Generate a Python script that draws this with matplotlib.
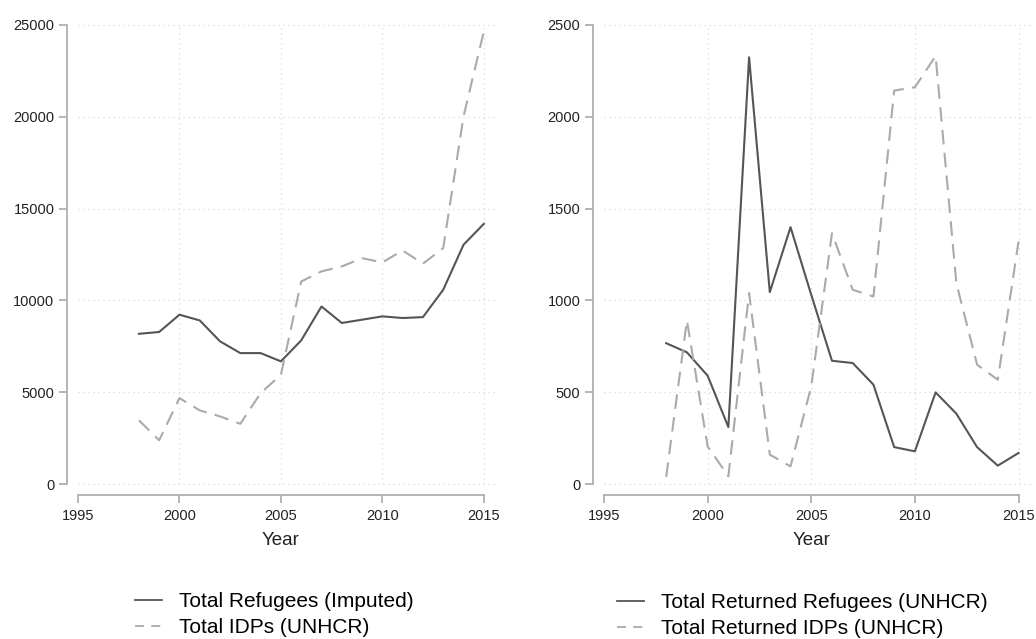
import matplotlib.pyplot as plt
from matplotlib.lines import Line2D

plt.rcParams["font.family"] = ["Liberation Sans", "DejaVu Sans"]

YEARS = list(range(1998, 2016))

# Stock series (left panel)
TOTAL_REFUGEES_IMPUTED = [8180, 8280, 9220, 8910, 7770, 7130, 7130, 6680, 7820,
                          9670, 8770, 8950, 9130, 9040, 9090, 10580, 13030, 14170]
TOTAL_IDPS = [3470, 2380, 4680, 4010, 3680, 3280, 4950, 5950, 11030,
              11580, 11850, 12300, 12070, 12720, 12000, 12850, 20020, 24650]

# Return flows (right panel)
RETURNED_REFUGEES = [767, 717, 590, 310, 2324, 1045, 1399, 1030, 671,
                     659, 541, 201, 178, 499, 383, 201, 100, 169]
RETURNED_IDPS = [38, 891, 205, 42, 1040, 160, 96, 532, 1366,
                 1058, 1021, 2143, 2161, 2331, 1094, 650, 568, 1321]

LEFT_YTICKS = [0, 5000, 10000, 15000, 20000, 25000]
RIGHT_YTICKS = [0, 500, 1000, 1500, 2000, 2500]
XTICKS = [1995, 2000, 2005, 2010, 2015]

SOLID_COLOR = "#555555"
DASH_COLOR = "#aaaaaa"
AXIS_COLOR = "#b0b0b0"
GRID_COLOR = "#d8d8d8"
DASHES = (7, 4)

W, H = 1036, 639


def fig_box(left_px, right_px, top_px, bottom_px):
    return [left_px / W, 1 - bottom_px / H, (right_px - left_px) / W, (bottom_px - top_px) / H]


def style_panel(ax, yticks):
    ax.set_xlim(1995, 2015.65)
    ax.set_ylim(yticks[0], yticks[-1])
    ax.set_xticks(XTICKS)
    ax.set_yticks(yticks)
    for side in ("top", "right"):
        ax.spines[side].set_visible(False)
    for side in ("left", "bottom"):
        ax.spines[side].set_color(AXIS_COLOR)
        ax.spines[side].set_linewidth(1.3)
        ax.spines[side].set_position(("outward", 8))
    ax.spines["bottom"].set_bounds(1995, 2015)
    ax.spines["left"].set_bounds(yticks[0], yticks[-1])
    ax.tick_params(axis="both", length=6, width=1.3, color=AXIS_COLOR,
                   labelsize=10.5, labelcolor="#222222")
    ax.tick_params(axis="y", pad=3)
    ax.tick_params(axis="x", pad=4)
    for y in yticks:
        ax.axhline(y, color=GRID_COLOR, lw=0.9, ls=(0, (1, 3)), zorder=0, clip_on=False)
    for x in XTICKS[1:]:
        ax.axvline(x, color=GRID_COLOR, lw=0.9, ls=(0, (1, 3)), zorder=0)
    ax.set_xlabel("Year", fontsize=13.5, color="#222222")
    ax.xaxis.set_label_coords(10 / 20.65, -0.104)


def add_legend(ax, labels, x_px, y_px):
    handles = [
        Line2D([], [], color=SOLID_COLOR, lw=1.3),
        Line2D([], [], color=DASH_COLOR, lw=1.3, dashes=(5, 4)),
    ]
    ax.legend(handles, labels, loc="upper left", bbox_to_anchor=(x_px / W, 1 - y_px / H),
              bbox_transform=ax.figure.transFigure, frameon=False, fontsize=15,
              handlelength=1.3, handletextpad=0.8, borderpad=0, borderaxespad=0,
              labelspacing=0.35)


fig = plt.figure(figsize=(W / 100, H / 100), dpi=100)

ax1 = fig.add_axes(fig_box(78, 497, 25, 484))
ax1.plot(YEARS, TOTAL_REFUGEES_IMPUTED, color=SOLID_COLOR, lw=1.5)
ax1.plot(YEARS, TOTAL_IDPS, color=DASH_COLOR, lw=1.5, dashes=DASHES)
style_panel(ax1, LEFT_YTICKS)
add_legend(ax1, ["Total Refugees (Imputed)", "Total IDPs (UNHCR)"], 135, 592)

ax2 = fig.add_axes(fig_box(604, 1032, 25, 484))
ax2.plot(YEARS, RETURNED_REFUGEES, color=SOLID_COLOR, lw=1.5)
ax2.plot(YEARS, RETURNED_IDPS, color=DASH_COLOR, lw=1.5, dashes=DASHES)
style_panel(ax2, RIGHT_YTICKS)
add_legend(ax2, ["Total Returned Refugees (UNHCR)", "Total Returned IDPs (UNHCR)"], 617, 593)

fig.savefig("out.png", dpi=100)
